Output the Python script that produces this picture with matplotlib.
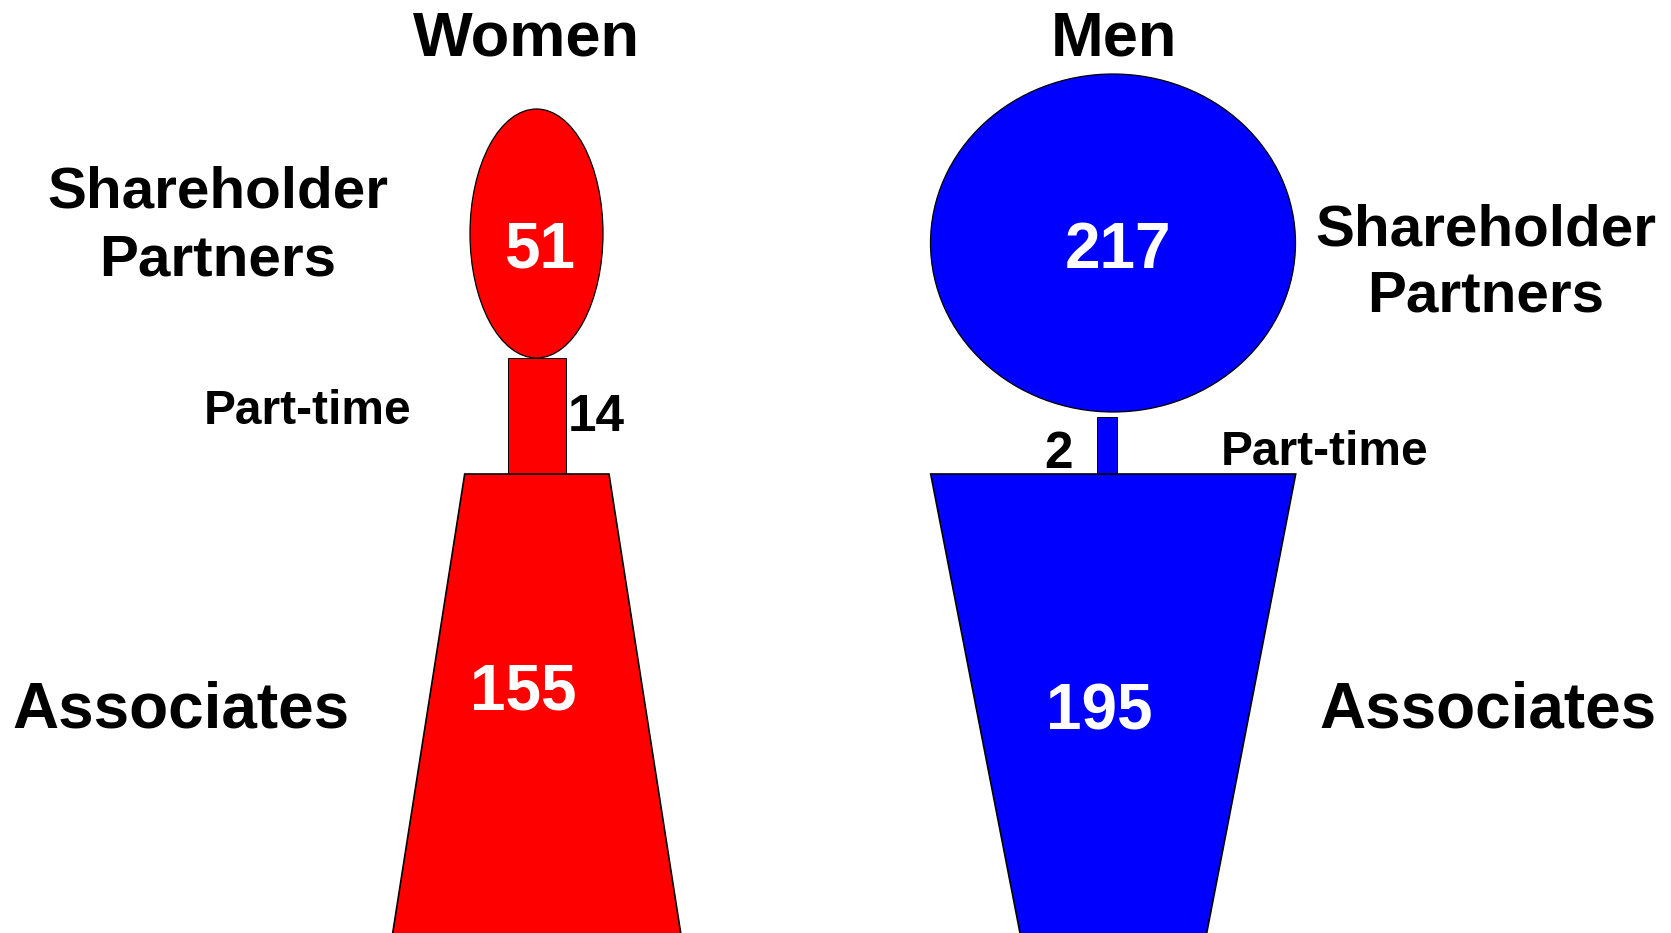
import matplotlib
matplotlib.use("Agg")
import matplotlib.pyplot as plt
from matplotlib.patches import Ellipse, Rectangle, Polygon

# data
groups = ["Women", "Men"]
partners = [51, 217]
part_time = [14, 2]
associates = [155, 195]
colors = ["#FF0000", "#0000FF"]

# shape layout in pixel coordinates (figure is 1671 x 933)
head = [(536.5, 233.5, 133, 249), (1113, 243, 365, 338)]          # cx, cy, w, h
neck = [(508, 358, 58, 116), (1097, 417, 20, 57)]                  # x, y, w, h
body = [((464.7, 609.0), (392.7, 680.7)), ((930.7, 1295.7), (1020.0, 1206.7))]  # top xs, bottom xs
body_top, body_bot = 474, 933

plt.rcParams['font.family'] = ['Liberation Sans', 'DejaVu Sans']
plt.rcParams['font.weight'] = 'bold'

fig = plt.figure(figsize=(16.71, 9.33), dpi=100)
ax = fig.add_axes([0, 0, 1, 1])
ax.set_xlim(0, 1671)
ax.set_ylim(933, 0)
ax.axis('off')

for i in range(2):
    c = colors[i]
    cx, cy, w, h = head[i]
    ax.add_patch(Ellipse((cx, cy), w, h, facecolor=c, edgecolor='black', lw=0.9))
    nx_, ny_, nw, nh = neck[i]
    ax.add_patch(Rectangle((nx_, ny_), nw, nh, facecolor=c, edgecolor='black', lw=0.7))
    (tl, tr), (bl, br) = body[i]
    # extend the sides a bit past the bottom edge so no outline shows there
    ext = 20
    k = ext / (body_bot - body_top)
    bl2 = bl + (bl - tl) * k
    br2 = br + (br - tr) * k
    ax.add_patch(Polygon([(tl, body_top), (tr, body_top), (br2, body_bot + ext), (bl2, body_bot + ext)],
                         closed=True, facecolor=c, edgecolor='black', lw=1.2))

def label(x, y, s, size, color='black'):
    ax.text(x, y, s, fontsize=size, color=color, ha='center', va='baseline', fontweight='bold')

# titles
label(526.5, 56, groups[0], 45.5)
label(1114, 56, groups[1], 45.5)

# category labels
label(218, 207, "Shareholder", 42)
label(218, 276, "Partners", 42)
label(1486, 246, "Shareholder", 42)
label(1486, 312, "Partners", 42)
label(181, 727, "Associates", 46)
label(1488, 727, "Associates", 46)
label(308, 424, "Part-time", 34.5)
label(1325, 465, "Part-time", 34.5)

# values
label(539.5, 268, str(partners[0]), 46, 'white')
label(1118, 268, str(partners[1]), 46, 'white')
label(596, 431, str(part_time[0]), 37)
label(1059, 468, str(part_time[1]), 37)
label(523.5, 710, str(associates[0]), 46, 'white')
label(1099.5, 729, str(associates[1]), 46, 'white')

fig.savefig("out.png", dpi=100, facecolor='white')
